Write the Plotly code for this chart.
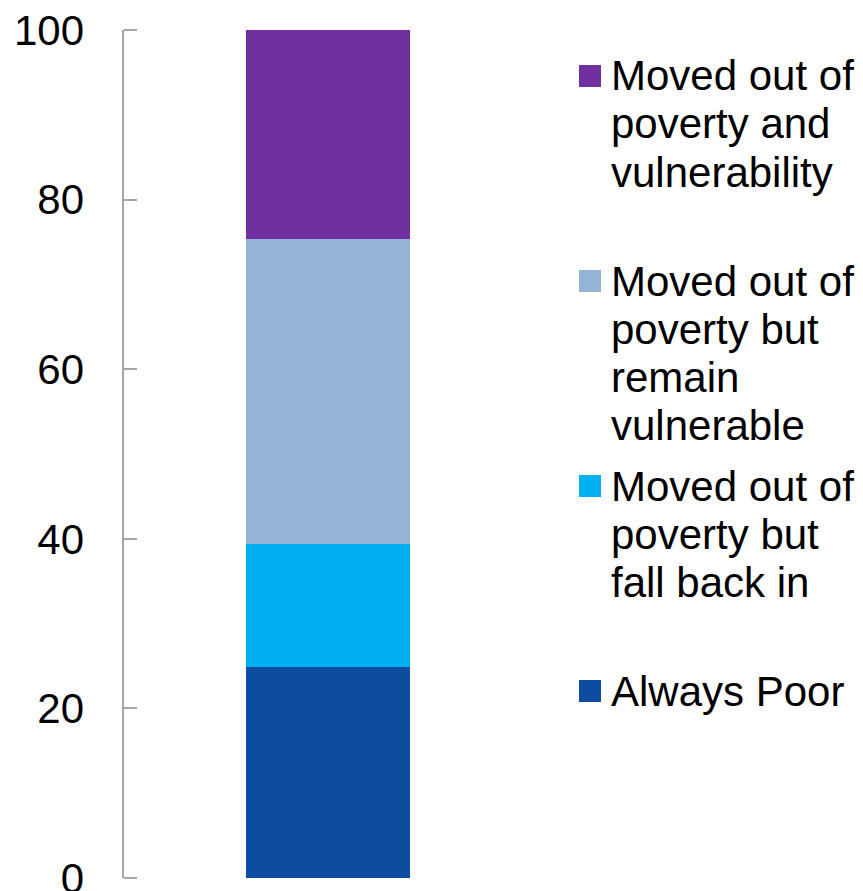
import plotly.graph_objects as go

# Share of households by poverty trajectory (%), stacked bottom to top
categories = [""]
series_names = [
    "Always Poor",
    "Moved out of<br>poverty but<br>fall back in",
    "Moved out of<br>poverty but<br>remain<br>vulnerable",
    "Moved out of<br>poverty and<br>vulnerability",
]
series_values = [[24.9], [14.5], [35.9], [24.7]]
series_colors = ["#0E4C9F", "#00B0F0", "#95B3D7", "#7030A0"]
y_ticks = [0, 20, 40, 60, 80, 100]

W, H = 863, 891
ML, MR, MT, MB = 123, 330, 30, 13
plot_w = W - ML - MR
plot_h = H - MT - MB

fig = go.Figure()
for name, vals, col in zip(series_names, series_values, series_colors):
    fig.add_trace(go.Bar(
        x=categories, y=vals, name=name.replace("<br>", " "),
        marker=dict(color=col, line=dict(width=0)),
        width=0.8, showlegend=False,
    ))

# Hand-built legend: top entry first, each entry on a fixed vertical pitch
FONT = "Liberation Sans, Arial, sans-serif"
legend_top_px = 76      # centre of first line of first entry
entry_pitch_px = 205
line_pitch_px = 48
sq = 22
sq_left_px = 579
text_left_px = 609


def px_to_paper_x(px):
    return (px - ML) / plot_w


def px_to_paper_y(py):
    return (H - MB - py) / plot_h


annotations = []
shapes = []
for i, (name, col) in enumerate(zip(reversed(series_names), reversed(series_colors))):
    first = legend_top_px + i * entry_pitch_px
    shapes.append(dict(
        type="rect", xref="paper", yref="paper",
        x0=px_to_paper_x(sq_left_px), x1=px_to_paper_x(sq_left_px + sq),
        y0=px_to_paper_y(first + sq / 2), y1=px_to_paper_y(first - sq / 2),
        fillcolor=col, line=dict(width=0),
    ))
    for j, line in enumerate(name.split("<br>")):
        annotations.append(dict(
            xref="paper", yref="paper",
            x=px_to_paper_x(text_left_px), y=px_to_paper_y(first + j * line_pitch_px),
            xanchor="left", yanchor="middle", text=line, showarrow=False,
            font=dict(family=FONT, size=42, color="#000000"),
        ))

# An invisible scatter on a second y axis so that axis (line + right-pointing ticks) renders
fig.add_trace(go.Scatter(x=categories, y=[None], yaxis="y2", showlegend=False,
                         hoverinfo="skip"))

fig.update_layout(
    barmode="stack",
    width=W, height=H,
    margin=dict(l=ML, r=MR, t=MT, b=MB, pad=0, autoexpand=False),
    paper_bgcolor="white", plot_bgcolor="white",
    font=dict(family=FONT, color="#000000"),
    annotations=annotations, shapes=shapes,
    xaxis=dict(range=[-1, 1], visible=False, fixedrange=True),
    yaxis=dict(
        range=[0, 100], tickvals=y_ticks, ticktext=[str(t) for t in y_ticks],
        showgrid=False, zeroline=False, automargin=False,
        showline=False, ticks="",
        tickfont=dict(family=FONT, size=42, color="#000000"),
        ticklabelstandoff=38, ticklabeloverflow="allow",
    ),
    # axis line with tick marks pointing into the plot
    yaxis2=dict(
        overlaying="y", side="right", anchor="free", position=0,
        range=[0, 100], tickvals=y_ticks, showticklabels=False,
        showgrid=False, zeroline=False, automargin=False,
        showline=True, linecolor="#A6A6A6", linewidth=2,
        ticks="outside", ticklen=13, tickwidth=2, tickcolor="#A6A6A6",
    ),
)

fig.write_html("out.html")
